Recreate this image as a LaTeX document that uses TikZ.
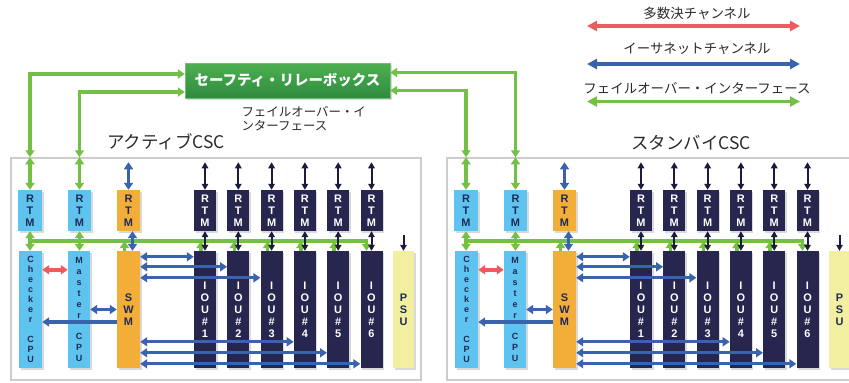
\documentclass[tikz,border=0pt]{standalone}
\usepackage{fontspec}
\setmainfont{Liberation Sans}
\newfontfamily\jp{Noto Sans CJK JP}
\usepackage{tikz}
\usetikzlibrary{arrows.meta, shadows}
\definecolor{CpuBlue}{HTML}{5EC4EF}
\definecolor{SwmOrange}{HTML}{F2AE38}
\definecolor{IouNavy}{HTML}{26264F}
\definecolor{PsuYellow}{HTML}{F2EFA0}
\definecolor{BoardText}{HTML}{1E2A55}
\definecolor{FioGreen}{HTML}{74BF45}
\definecolor{EthBlue}{HTML}{3A63AE}
\definecolor{VoteRed}{HTML}{EE5B5E}
\definecolor{CtlNavy}{HTML}{1B1B3D}
\definecolor{FrameGray}{HTML}{CCCCCC}
\definecolor{TextGray}{HTML}{2A2A2A}
\definecolor{RelayTop}{HTML}{4DB050}
\definecolor{RelayBot}{HTML}{2E8B3E}

\begin{document}
\begin{tikzpicture}[x=1bp, y=-1bp,
    every node/.style={font=\jp\fontsize{13.5}{15}\selectfont, text=TextGray},
    csc/.style={draw=FrameGray, line width=1.5bp, minimum width=410bp, minimum height=222bp, inner sep=0pt},
    board/.style={rectangle, inner sep=0pt, align=center, minimum height=117bp, text=BoardText,
      drop shadow={shadow xshift=1.5bp, shadow yshift=-1.5bp, opacity=0.3},
      font=\fontsize{11}{12}\selectfont\bfseries},
    rtm/.style={board, minimum height=41bp},
    relay/.style={rectangle, minimum width=205bp, minimum height=35bp, top color=RelayTop, bottom color=RelayBot,
      draw=RelayTop!80!white, text=white, font=\jp\bfseries\fontsize{14.5}{16}\selectfont,
      drop shadow={shadow xshift=1.5bp, shadow yshift=-1.5bp, opacity=0.3}},
    fio/.style={line width=3.5bp, draw=FioGreen, >={Triangle[length=7bp, width=9bp]}},
    eth/.style={line width=3.2bp, draw=EthBlue, >={Triangle[length=7bp, width=9bp]}},
    vote/.style={line width=3.5bp, draw=VoteRed, >={Triangle[length=7bp, width=9bp]}},
    ctl/.style={line width=2bp, draw=CtlNavy, >={Triangle[length=6bp, width=6.5bp]}},
    legend/.style={line width=3.5bp, >={Triangle[length=10bp, width=10bp]}}
  ]
    \useasboundingbox (0,0) rectangle (849,382);

    % legend
    \node (lgvote) at (697,13.5) {多数決チャンネル};
    \node (lgeth) at (697,49) {イーサネットチャンネル};
    \node (lgfio) at (697,88) {フェイルオーバー・インターフェース};
    \coordinate (lgvote-l) at (587,26);  \coordinate (lgvote-r) at (800,26);
    \coordinate (lgeth-l) at (587,64);   \coordinate (lgeth-r) at (800,64);
    \coordinate (lgfio-l) at (587,101.5); \coordinate (lgfio-r) at (800,101.5);
    \draw[legend, draw=VoteRed, <->] (lgvote-l) -- (lgvote-r);
    \draw[legend, draw=EthBlue, <->] (lgeth-l) -- (lgeth-r);
    \draw[legend, draw=FioGreen, <->] (lgfio-l) -- (lgfio-r);

    % safety relay box
    \node[relay] (relay) at (287.5,80.5) {セーフティ・リレーボックス};
    \node[anchor=north west, align=left, font=\jp\fontsize{12.5}{14}\selectfont] (fionote) at (238,103)
      {フェイルオーバー・イ\\ンターフェース};

    \node[font=\jp\fontsize{17.5}{19}\selectfont] (actttl) at (166,142) {アクティブCSC};
    \node[font=\jp\fontsize{17.5}{19}\selectfont] (stbttl) at (691,143) {スタンバイCSC};

    % one shelf per CSC: a = active, s = standby
    \foreach \p/\dx in {a/0, s/436} {
      \begin{scope}[xshift=\dx bp]
        \node[csc] (\p-csc) at (216,269) {};

        \node[rtm, fill=CpuBlue, minimum width=24bp] (\p-crtm) at (30,210.5) {R\\T\\M};
        \node[rtm, fill=CpuBlue, minimum width=23bp] (\p-mrtm) at (79.5,210.5) {R\\T\\M};
        \node[rtm, fill=SwmOrange, minimum width=23bp] (\p-srtm) at (128.5,210.5) {R\\T\\M};
        \node[board, fill=CpuBlue, minimum width=23bp, font=\fontsize{9}{10}\selectfont\bfseries] (\p-ccpu)
          at (30.5,309.5) {C\\h\\e\\c\\k\\e\\r\\\strut\\C\\P\\U};
        \node[board, fill=CpuBlue, minimum width=22bp, font=\fontsize{9}{11}\selectfont\bfseries] (\p-mcpu)
          at (79,309.5) {M\\a\\s\\t\\e\\r\\\strut\\C\\P\\U};
        \node[board, fill=SwmOrange, minimum width=23bp] (\p-swm) at (128.5,309.5) {S\\W\\M};
        \node[board, fill=PsuYellow, minimum width=21bp] (\p-psu) at (403.5,309.5) {P\\S\\U};
        \foreach \k in {1,...,6} {
          \node[rtm, fill=IouNavy, text=white, minimum width=22bp] (\p-rtm\k) at ({205+33.3*(\k-1)},210.5) {R\\T\\M};
          \node[board, fill=IouNavy, text=white, minimum width=22bp] (\p-iou\k) at ({205+33.3*(\k-1)},309.5) {I\\O\\U\\\#\\\k};
        }

        % failover bus
        \coordinate (\p-bus) at (31,241);
        \draw[fio, ->] (\p-bus) -| ([xshift=-5bp]\p-iou6.north);
        \foreach \b in {swm, iou1, iou2, iou3, iou4, iou5}
          \draw[fio, ->] ([xshift=-4bp]\p-\b.north) -- ([xshift=-4bp]\p-\b.north |- \p-bus);
        \draw[fio, <->] (\p-crtm.south) -- (\p-crtm.south |- \p-ccpu.north);
        \draw[fio, <->] (\p-mrtm.south) -- (\p-mrtm.south |- \p-mcpu.north);
        \draw[fio, <->] (\p-crtm.north |- \p-csc.north) -- (\p-crtm.north);
        \draw[fio, <->] (\p-mrtm.north |- \p-csc.north) -- (\p-mrtm.north);

        % rear transition modules
        \draw[eth, <->] ([yshift=-5bp]\p-srtm.north |- \p-csc.north) -- (\p-srtm.north);
        \draw[eth, <->] ([xshift=4bp]\p-srtm.south) -- ([xshift=4bp]\p-swm.north);
        \foreach \k in {1,...,6} {
          \draw[ctl, <->] ([yshift=-5bp]\p-rtm\k.north |- \p-csc.north) -- (\p-rtm\k.north);
          \draw[ctl, <->] (\p-rtm\k.south) -- (\p-iou\k.north);
        }
        \draw[ctl, ->] ([yshift=6bp]\p-psu.north |- \p-bus) -- (\p-psu.north);

        % ethernet from the switch
        \foreach \k/\dy in {1/6, 2/16, 3/27, 4/91, 5/102, 6/113}
          \draw[eth, <->] ([yshift=-\dy bp]\p-swm.north east) -- ([yshift=-\dy bp]\p-iou\k.north west);
        \draw[eth, <->] (\p-mcpu.east) -- (\p-swm.west);
        \draw[eth, ->] ([yshift=-12.5bp]\p-swm.west) -- ([yshift=-12.5bp]\p-ccpu.east);
        \draw[vote, <->] ([yshift=-19bp]\p-ccpu.north east) -- ([yshift=-19bp]\p-mcpu.north west);
      \end{scope}
    }

    % links to the relay box
    \draw[fio, <->] ([yshift=6.5bp]relay.west) -| (a-crtm.north |- a-csc.north);
    \draw[fio, <->] ([yshift=-11.5bp]relay.west) -| (a-mrtm.north |- a-csc.north);
    \draw[fio, <->] ([yshift=8bp]relay.east) -| (s-mrtm.north |- s-csc.north);
    \draw[fio, <->] ([yshift=-10bp]relay.east) -| (s-crtm.north |- s-csc.north);
  \end{tikzpicture}
\end{document}
